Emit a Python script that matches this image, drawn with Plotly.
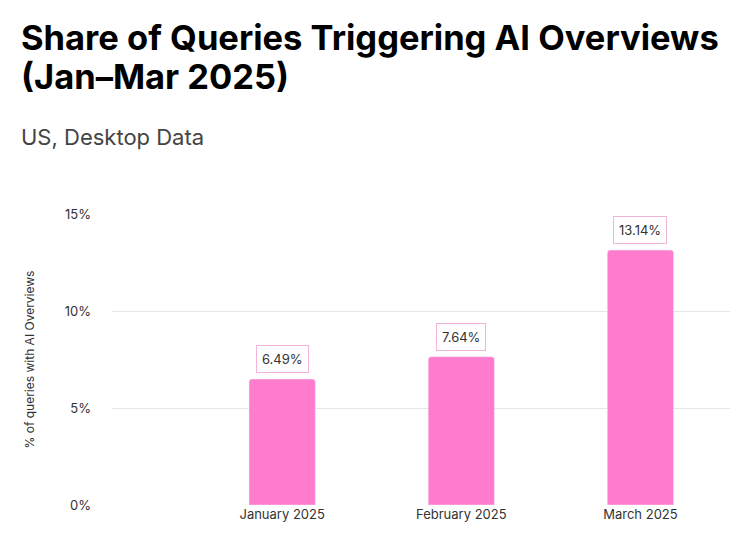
import plotly.graph_objects as go

categories = ["January 2025", "February 2025", "March 2025"]
values = [6.49, 7.64, 13.14]
labels = ["6.49%", "7.64%", "13.14%"]
yticks = [0, 5, 10, 15]
yticklabels = ["0%", "5%", "10%", "15%"]

xs = list(range(len(categories)))
fig = go.Figure(go.Bar(x=xs, y=values, width=0.37, marker=dict(color="#FF7BCE", cornerradius=3),
                       hoverinfo="skip"))
for x, v, t in zip(xs, values, labels):
    fig.add_annotation(x=x, y=v, text=t, showarrow=False, yshift=20, yanchor="middle",
                       font=dict(family="Inter", size=13, color="#333"),
                       bordercolor="#F2B3DA", borderwidth=1, borderpad=5, bgcolor="white")
font = "Inter"
for txt, yy, sz, col in [("<b>Share of Queries Triggering AI Overviews</b>", 1.608, 34.5, "#000"),
                         ("<b>(Jan–Mar 2025)</b>", 1.471, 34.5, "#000"),
                         ("US, Desktop Data", 1.265, 22, "#444")]:
    fig.add_annotation(xref="paper", yref="paper", x=-0.15, y=yy, xanchor="left", yanchor="middle",
                       text=txt, showarrow=False, font=dict(family=font, size=sz, color=col))
fig.update_layout(
    width=745, height=538, margin=dict(l=104, r=23, t=206, b=41),
    plot_bgcolor="white", paper_bgcolor="white", showlegend=False,
    font=dict(family=font, size=13, color="#333"),
    xaxis=dict(range=[-0.95, 2.5], tickvals=xs, ticktext=categories, showgrid=False, automargin=False,
               zeroline=False, showline=False, tickfont=dict(size=13)),
    yaxis=dict(range=[0, 15], tickvals=yticks, ticktext=yticklabels, gridcolor="#e6e6e6",
               zeroline=False, showline=False, ticklabelstandoff=20, automargin=False,
               title=dict(text="% of queries with AI Overviews", font=dict(size=12), standoff=27)),
)
fig.write_html("out.html")
